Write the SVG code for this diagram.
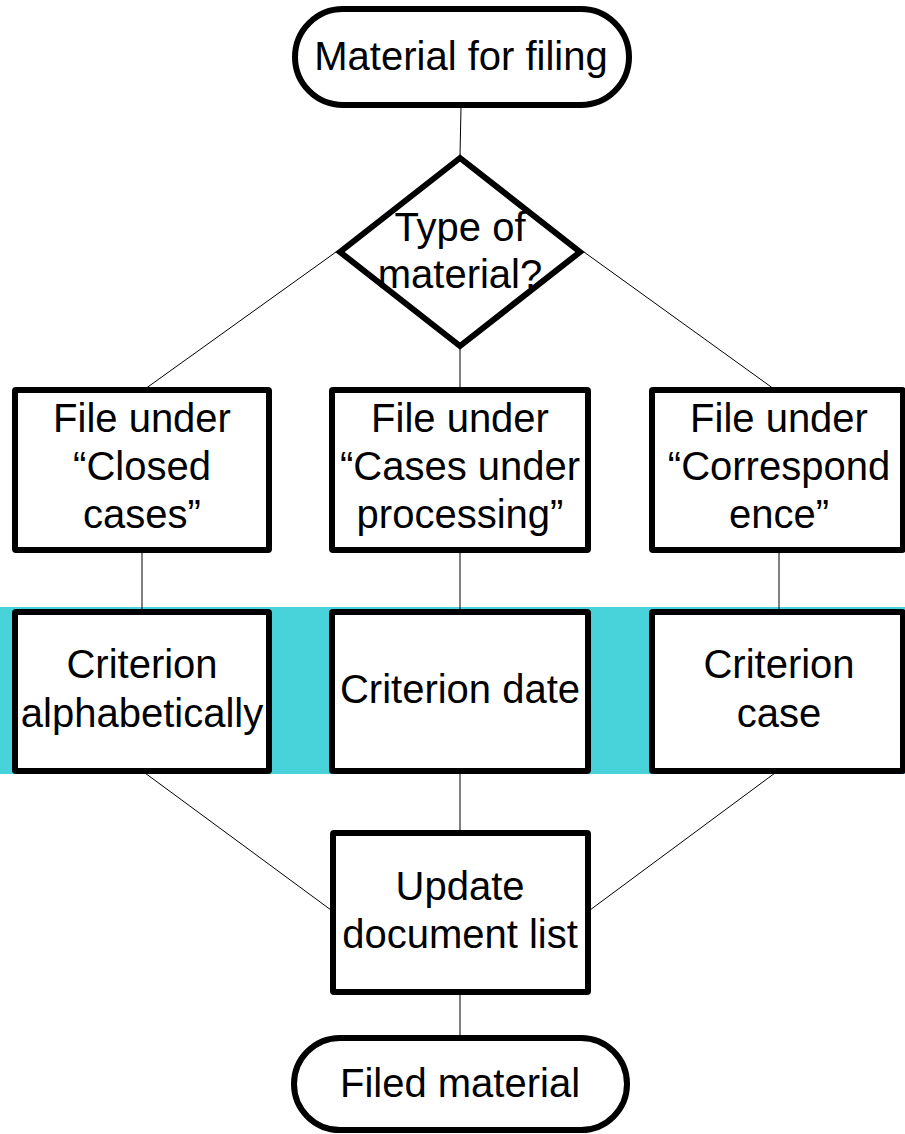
<svg xmlns="http://www.w3.org/2000/svg" width="905" height="1134" viewBox="0 0 905 1134">
<style>
.shape{fill:#fff;stroke:#000;stroke-width:6;stroke-linejoin:round}
.dia{fill:#fff;stroke:#000;stroke-width:6;stroke-linejoin:miter}
.con{stroke:#000;stroke-width:1;fill:none}
text{font-family:"Liberation Sans",Arial,sans-serif;font-size:40px;fill:#000;text-anchor:middle}
</style>
<rect x="0" y="607" width="905" height="167" fill="#48D3DB"/>
<g id="connectors">
<line class="con" x1="461" y1="107" x2="460" y2="156"/>
<line class="con" x1="336" y1="252" x2="145" y2="389"/>
<line class="con" x1="584" y1="252" x2="774" y2="389"/>
<line class="con" x1="460" y1="348" x2="460" y2="389"/>
<line class="con" x1="142" y1="552" x2="142" y2="610"/>
<line class="con" x1="460" y1="552" x2="460" y2="610"/>
<line class="con" x1="779" y1="552" x2="779" y2="610"/>
<line class="con" x1="145" y1="773" x2="331" y2="910"/>
<line class="con" x1="460" y1="773" x2="460" y2="832"/>
<line class="con" x1="775" y1="773" x2="590" y2="910"/>
<line class="con" x1="460" y1="994" x2="460" y2="1037"/>
</g>
<g id="start">
<rect class="shape" x="295" y="9" width="334" height="96" rx="48"/>
<text x="461" y="70">Material for filing</text>
</g>
<g id="decision">
<polygon class="dia" points="460,158 340,252 460,346 580,252"/>
<text x="460" y="241">Type of</text>
<text x="460" y="288">material?</text>
</g>
<g id="closed">
<rect class="shape" x="15" y="390" width="254" height="160" rx="1"/>
<text x="142" y="432">File under</text>
<text x="142" y="480">“Closed</text>
<text x="142" y="528">cases”</text>
</g>
<g id="processing">
<rect class="shape" x="332" y="390" width="256" height="160" rx="1"/>
<text x="460" y="432">File under</text>
<text x="460" y="480">“Cases under</text>
<text x="460" y="528">processing”</text>
</g>
<g id="correspondence">
<rect class="shape" x="652" y="390" width="251" height="160" rx="1"/>
<text x="779" y="432">File under</text>
<text x="779" y="480">“Correspond</text>
<text x="779" y="528">ence”</text>
</g>
<g id="alpha">
<rect class="shape" x="15" y="612" width="254" height="159" rx="1"/>
<text x="142" y="678">Criterion</text>
<text x="142" y="727">alphabetically</text>
</g>
<g id="date">
<rect class="shape" x="332" y="612" width="256" height="159" rx="1"/>
<text x="460" y="703">Criterion date</text>
</g>
<g id="case">
<rect class="shape" x="652" y="612" width="251" height="159" rx="1"/>
<text x="779" y="678">Criterion</text>
<text x="779" y="727">case</text>
</g>
<g id="update">
<rect class="shape" x="333" y="833" width="255" height="159" rx="1"/>
<text x="460" y="900">Update</text>
<text x="460" y="948">document list</text>
</g>
<g id="end">
<rect class="shape" x="294" y="1038" width="333" height="92" rx="46"/>
<text x="460" y="1097">Filed material</text>
</g>
</svg>
